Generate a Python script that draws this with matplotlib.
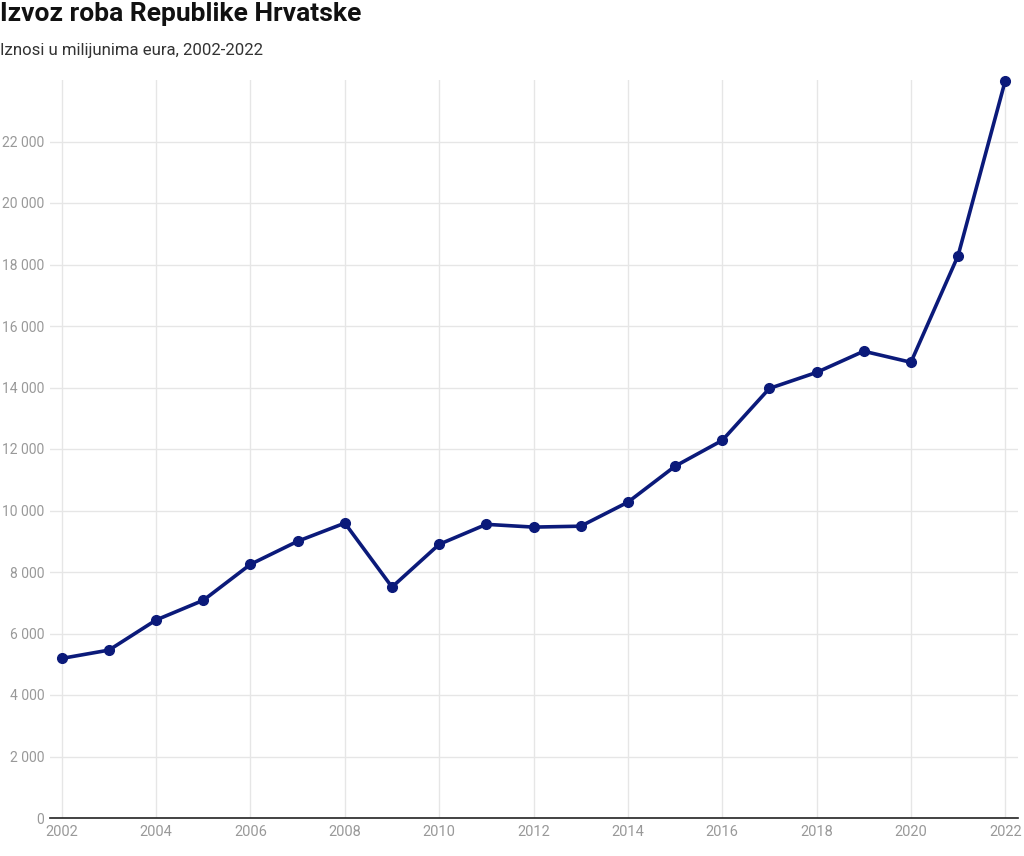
import numpy as np
import matplotlib.pyplot as plt
from matplotlib.ticker import FuncFormatter

plt.rcParams['font.family'] = ['Roboto', 'DejaVu Sans']

# Izvoz roba, milijuni eura
godine = [2002, 2003, 2004, 2005, 2006, 2007, 2008, 2009, 2010, 2011, 2012,
          2013, 2014, 2015, 2016, 2017, 2018, 2019, 2020, 2021, 2022]
izvoz = [5190, 5460, 6440, 7080, 8250, 9000, 9590, 7510, 8900, 9550, 9460,
         9490, 10270, 11440, 12280, 13970, 14490, 15180, 14820, 18290, 23980]

y_ticks = list(range(0, 22001, 2000))
x_ticks = list(range(2002, 2023, 2))

fig = plt.figure(figsize=(10.24, 8.56), dpi=100)
ax = fig.add_axes([50 / 1024, 1 - 818 / 856, 968 / 1024, 738 / 856])

ax.plot(godine, izvoz, color="#0b1a7a", linewidth=2.6, marker="o",
        markersize=7, clip_on=False, zorder=3)

ax.set_xlim(2001.75, 2022.27)
ax.set_ylim(0, 24000)
ax.set_yticks(y_ticks)
ax.set_xticks(x_ticks)
ax.yaxis.set_major_formatter(FuncFormatter(lambda v, p: f"{int(v):,}".replace(",", " ")))

ax.grid(True, color="#e6e6e6", linewidth=1)
ax.set_axisbelow(True)
for s in ["top", "right", "left"]:
    ax.spines[s].set_visible(False)
ax.spines["bottom"].set_color("#222222")
ax.spines["bottom"].set_linewidth(1.2)
ax.tick_params(axis="both", length=0, colors="#999999")
ax.tick_params(axis="y", pad=4, labelsize=10)
ax.tick_params(axis="x", pad=5, labelsize=10.5)

fig.text(0.0, 1 - 14 / 856, "Izvoz roba Republike Hrvatske", fontsize=19,
         fontweight="bold", color="#111111", va="center", ha="left")
fig.text(0.0, 1 - 50 / 856, "Iznosi u milijunima eura, 2002-2022", fontsize=12.1,
         color="#333333", va="center", ha="left")

fig.savefig("out.png", dpi=100)
